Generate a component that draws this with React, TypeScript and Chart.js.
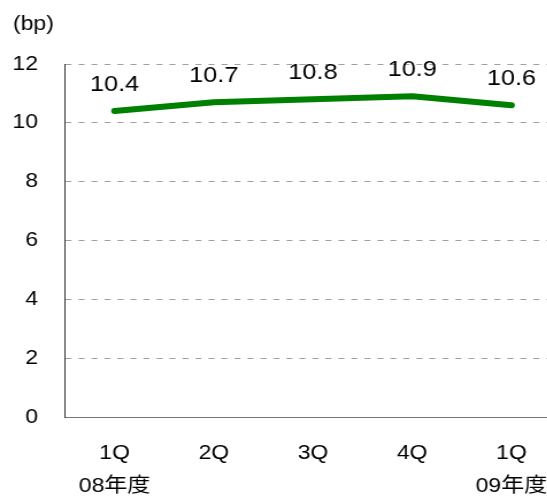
import React, { useEffect, useRef } from "react";
import { Chart, registerables } from "chart.js";

Chart.register(...registerables);

const categories: string[][] = [["1Q", "08年度"], ["2Q", ""], ["3Q", ""], ["4Q", ""], ["1Q", "09年度"]];
const values: number[] = [10.4, 10.7, 10.8, 10.9, 10.6];
const yTicks: number[] = [0, 2, 4, 6, 8, 10, 12];
const unitLabel = "(bp)";

const FONT = "'Liberation Sans', Arial, 'Noto Sans CJK JP', sans-serif";
const SX = 1.15; // horizontal stretch of the drawing
const DISPLAY_W = 561;
const DISPLAY_H = 503;
const INNER_W = Math.round(DISPLAY_W / SX);

const labelPlugin = {
  id: "valueLabels",
  afterDatasetsDraw(chart: any) {
    const ctx = chart.ctx;
    const meta = chart.getDatasetMeta(0);
    ctx.save();
    ctx.font = `22px ${FONT}`;
    ctx.fillStyle = "#000";
    ctx.textAlign = "center";
    ctx.textBaseline = "middle";
    meta.data.forEach((pt: any, i: number) => {
      ctx.fillText(values[i].toFixed(1), pt.x, pt.y - 26);
    });
    ctx.font = `20px ${FONT}`;
    ctx.textAlign = "left";
    ctx.textBaseline = "middle";
    ctx.fillText(unitLabel, 13 / SX, 24);
    ctx.restore();
  },
};

export default function App() {
  const ref = useRef<HTMLCanvasElement | null>(null);
  useEffect(() => {
    document.body.style.margin = "0";
    document.body.style.overflow = "hidden";
    const canvas = ref.current!;
    const chart = new Chart(canvas, {
      type: "line",
      data: {
        labels: categories,
        datasets: [
          {
            data: values,
            borderColor: "#008000",
            borderWidth: 6,
            pointRadius: 0,
            tension: 0,
            borderCapStyle: "round",
            borderJoinStyle: "round",
          },
        ],
      },
      options: {
        animation: false,
        responsive: false,
        devicePixelRatio: 1,
        layout: { padding: { top: 64, left: 0, right: 0, bottom: 0 } },
        plugins: { legend: { display: false }, tooltip: { enabled: false }, title: { display: false } },
        scales: {
          x: {
            offset: true,
            grid: { display: false, drawTicks: false },
            border: { display: true, color: "#777", width: 1 },
            afterFit: (axis: any) => {
              axis.height = 86;
              axis.paddingLeft = 0;
              axis.paddingRight = 0;
            },
            ticks: {
              color: "#000",
              padding: 19.5,
              font: { family: FONT, size: 20, lineHeight: 33 / 20 },
              maxRotation: 0,
              autoSkip: false,
            },
          },
          y: {
            min: 0,
            max: 12,
            afterBuildTicks: (axis: any) => {
              axis.ticks = yTicks.map((v) => ({ value: v }));
            },
            afterFit: (axis: any) => {
              axis.width = 65 / SX;
            },
            grid: { color: "#a0a0a0", lineWidth: 1, drawTicks: false },
            border: { display: true, color: "#333", width: 1, dash: [6 / SX, 7 / SX] },
            ticks: {
              color: "#000",
              padding: 27 / SX,
              font: { family: FONT, size: 20 },
            },
          },
        },
      },
      plugins: [labelPlugin],
    });
    return () => chart.destroy();
  }, []);
  return (
    <div style={{ width: 547, height: 498, overflow: "hidden", position: "relative", background: "#fff" }}>
      <canvas
        ref={ref}
        width={INNER_W}
        height={DISPLAY_H}
        style={{ display: "block", width: DISPLAY_W, height: DISPLAY_H }}
      />
    </div>
  );
}
